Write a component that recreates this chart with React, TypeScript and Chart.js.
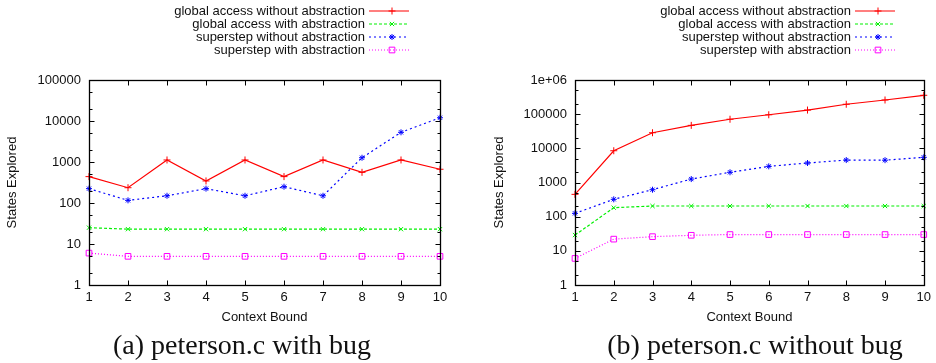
import React, { useEffect, useRef } from 'react';
import { Chart, registerables } from 'chart.js';
import { drawPoint } from 'chart.js/helpers';

Chart.register(...registerables);

// ---------- data ----------
const contextBounds = [1, 2, 3, 4, 5, 6, 7, 8, 9, 10];
const seriesLabels = [
  'global access without abstraction',
  'global access with abstraction',
  'superstep without abstraction',
  'superstep with abstraction',
];

// (a) peterson.c with bug
const bugGlobalNoAbs = [440, 236, 1120, 345, 1120, 440, 1120, 560, 1120, 665];
const bugGlobalAbs = [25, 23, 23, 23, 23, 23, 23, 23, 23, 23];
const bugSuperNoAbs = [224, 116, 150, 224, 150, 250, 150, 1270, 5300, 12000];
const bugSuperAbs = [6, 5, 5, 5, 5, 5, 5, 5, 5, 5];

// (b) peterson.c without bug
const noBugGlobalNoAbs = [450, 8500, 28600, 47000, 71000, 96000, 132000, 195000, 260000, 357000];
const noBugGlobalAbs = [29, 183, 205, 205, 205, 205, 205, 205, 205, 205];
const noBugSuperNoAbs = [125, 322, 615, 1260, 1990, 2970, 3720, 4540, 4500, 5450];
const noBugSuperAbs = [6, 22, 26, 28.5, 30, 30, 30, 30, 30, 30];

const yTickValuesA = [1, 10, 100, 1000, 10000, 100000];
const yTickLabelsA = ['1', '10', '100', '1000', '10000', '100000'];
const yTickValuesB = [1, 10, 100, 1000, 10000, 100000, 1000000];
const yTickLabelsB = ['1', '10', '100', '1000', '10000', '100000', '1e+06'];

const xTitle = 'Context Bound';
const yTitle = 'States Explored';
const captionA = '(a) peterson.c with bug';
const captionB = '(b) peterson.c without bug';

// ---------- styles ----------
const FONT = 'Liberation Sans, Arial, sans-serif';
const TEXT = '#111';
const seriesStyles = [
  { color: '#ff0000', dash: [] as number[], pointStyle: 'cross', radius: 3.5, fill: '#ff0000' },
  { color: '#00f000', dash: [3, 2], pointStyle: 'crossRot', radius: 3, fill: '#00f000' },
  { color: '#0000ff', dash: [2, 3], pointStyle: 'star', radius: 3, fill: '#0000ff' },
  { color: '#ff00ff', dash: [1, 2], pointStyle: 'rect', radius: 4, fill: 'rgba(0,0,0,0)' },
];

type PanelCfg = {
  series: number[][];
  tickValues: number[];
  tickLabels: string[];
  yMax: number;
  axisWidth: number;
  padRight: number;
  yTitlePad: number;
  legendRight: number;
};

const panelA: PanelCfg = {
  series: [bugGlobalNoAbs, bugGlobalAbs, bugSuperNoAbs, bugSuperAbs],
  tickValues: yTickValuesA,
  tickLabels: yTickLabelsA,
  yMax: 100000,
  axisWidth: 89,
  padRight: 28,
  yTitlePad: 5,
  legendRight: 365,
};

const panelB: PanelCfg = {
  series: [noBugGlobalNoAbs, noBugGlobalAbs, noBugSuperNoAbs, noBugSuperAbs],
  tickValues: yTickValuesB,
  tickLabels: yTickLabelsB,
  yMax: 1000000,
  axisWidth: 107,
  padRight: 10,
  yTitlePad: 24,
  legendRight: 383,
};

const W = 468;
const H = 330;

function Panel({ cfg, left }: { cfg: PanelCfg; left: number }) {
  const ref = useRef<HTMLCanvasElement | null>(null);

  useEffect(() => {
    if (!ref.current) return;

    const frameTicks = {
      id: 'frameTicks',
      afterDatasetsDraw(chart: any) {
        const { ctx, chartArea: a, scales } = chart;
        const xs = scales.x;
        const ys = scales.y;
        const L = Math.round(a.left) + 0.5;
        const R = Math.round(a.right) + 0.5;
        const T = Math.round(a.top) + 0.5;
        const B = Math.round(a.bottom) + 0.5;
        ctx.save();
        ctx.strokeStyle = '#000';
        ctx.lineWidth = 1;
        ctx.setLineDash([]);
        ctx.beginPath();
        for (const v of contextBounds) {
          const px = Math.round(xs.getPixelForValue(v)) + 0.5;
          ctx.moveTo(px, B);
          ctx.lineTo(px, B - 5);
          ctx.moveTo(px, T);
          ctx.lineTo(px, T + 5);
        }
        for (const d of cfg.tickValues) {
          const py = Math.round(ys.getPixelForValue(d)) + 0.5;
          ctx.moveTo(L, py);
          ctx.lineTo(L + 5, py);
          ctx.moveTo(R, py);
          ctx.lineTo(R - 5, py);
          for (const m of [2, 5]) {
            const v = d * m;
            if (v >= cfg.yMax) continue;
            const pm = Math.round(ys.getPixelForValue(v)) + 0.5;
            ctx.moveTo(L, pm);
            ctx.lineTo(L + 3, pm);
            ctx.moveTo(R, pm);
            ctx.lineTo(R - 3, pm);
          }
        }
        ctx.stroke();
        ctx.lineWidth = 1.3;
        ctx.strokeRect(L, T, R - L, B - T);
        ctx.restore();
      },
      afterDraw(chart: any) {
        const ctx: CanvasRenderingContext2D = chart.ctx;
        const rows = [11, 24, 37, 50];
        seriesLabels.forEach((label, i) => {
          const st = seriesStyles[i];
          const y = rows[i];
          // text
          ctx.save();
          ctx.font = `13px ${FONT}`;
          ctx.textAlign = 'right';
          ctx.textBaseline = 'middle';
          ctx.fillStyle = TEXT;
          ctx.fillText(label, cfg.legendRight, y);
          ctx.restore();
          // sample line
          const x1 = cfg.legendRight + 4;
          const x2 = cfg.legendRight + 44;
          ctx.save();
          ctx.globalAlpha = 1;
          ctx.lineWidth = 1.2;
          ctx.setLineDash(st.dash);
          ctx.strokeStyle = st.color;
          ctx.beginPath();
          ctx.moveTo(x1, y);
          ctx.lineTo(x2, y);
          ctx.stroke();
          ctx.restore();
          // marker
          ctx.save();
          ctx.setLineDash([]);
          ctx.strokeStyle = st.color;
          ctx.fillStyle = st.fill;
          ctx.lineWidth = 1;
          drawPoint(
            ctx,
            { pointStyle: st.pointStyle as any, radius: st.radius, rotation: 0, borderWidth: 1 } as any,
            cfg.legendRight + 27,
            y
          );
          ctx.restore();
        });
      },
    };

    const chart = new Chart(ref.current, {
      type: 'line',
      data: {
        datasets: cfg.series.map((vals, i) => {
          const st = seriesStyles[i];
          return {
            label: seriesLabels[i],
            data: vals.map((v, j) => ({ x: contextBounds[j], y: v })),
            borderColor: st.color,
            backgroundColor: st.fill,
            borderWidth: 1.2,
            borderDash: st.dash,
            pointStyle: st.pointStyle as any,
            pointRadius: st.radius,
            pointBorderWidth: 1,
            pointBorderColor: st.color,
            pointBackgroundColor: st.fill,
            tension: 0,
            clip: false as any,
            fill: false,
          };
        }),
      },
      options: {
        responsive: false,
        animation: false,
        events: [],
        layout: { padding: { left: 0, top: 80, right: cfg.padRight, bottom: 0 } },
        plugins: { legend: { display: false }, tooltip: { enabled: false }, title: { display: false } },
        scales: {
          x: {
            type: 'linear',
            min: 1,
            max: 10,
            offset: false,
            grid: { display: false, drawTicks: false },
            border: { display: false },
            ticks: {
              stepSize: 1,
              autoSkip: false,
              maxRotation: 0,
              padding: 5,
              color: TEXT,
              font: { family: FONT, size: 13 },
            },
            title: {
              display: true,
              text: xTitle,
              color: TEXT,
              font: { family: FONT, size: 13 },
              padding: { top: 0, bottom: 5 },
            },
            afterFit: (s: any) => {
              s.height = 45;
            },
          },
          y: {
            type: 'logarithmic',
            min: 1,
            max: cfg.yMax,
            grid: { display: false, drawTicks: false },
            border: { display: false },
            afterBuildTicks: (s: any) => {
              s.ticks = cfg.tickValues.map((v) => ({ value: v }));
            },
            ticks: {
              autoSkip: false,
              padding: 8,
              color: TEXT,
              font: { family: FONT, size: 13 },
              callback: (_v: any, idx: number) => cfg.tickLabels[idx],
            },
            title: {
              display: true,
              text: yTitle,
              color: TEXT,
              font: { family: FONT, size: 13 },
              padding: { top: cfg.yTitlePad, bottom: 0 },
            },
            afterFit: (s: any) => {
              s.width = cfg.axisWidth;
            },
          },
        },
      },
      plugins: [frameTicks],
    } as any);

    return () => chart.destroy();
  }, [cfg]);

  return (
    <canvas
      ref={ref}
      width={W}
      height={H}
      style={{ position: 'absolute', left, top: 0, width: W, height: H }}
    />
  );
}

const captionStyle: React.CSSProperties = {
  position: 'absolute',
  top: 329,
  width: 468,
  textAlign: 'center',
  fontFamily: '"Liberation Serif", "Times New Roman", serif',
  fontSize: 28,
  lineHeight: '32px',
  color: '#111',
  whiteSpace: 'nowrap',
};

export default function App() {
  return (
    <div
      style={{
        position: 'absolute',
        left: 0,
        top: 0,
        width: 936,
        height: 363,
        background: '#fff',
        overflow: 'hidden',
      }}
    >
      <Panel cfg={panelA} left={0} />
      <Panel cfg={panelB} left={468} />
      <div style={{ ...captionStyle, left: 242 - 234 }}>{captionA}</div>
      <div style={{ ...captionStyle, left: 755 - 234 }}>{captionB}</div>
    </div>
  );
}
